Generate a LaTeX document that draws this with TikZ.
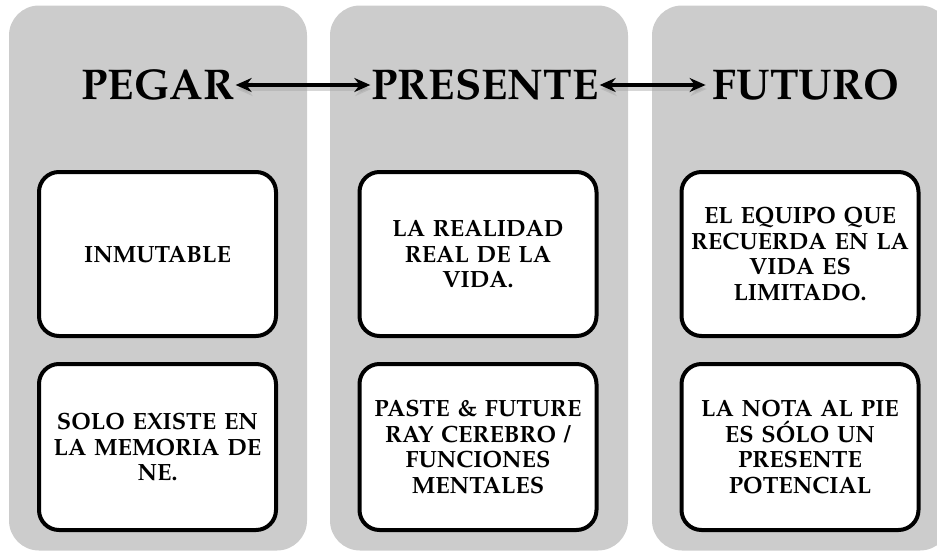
\documentclass[tikz,border=0pt]{standalone}
\usepackage[T1]{fontenc}
\usepackage{mathpazo}
\usetikzlibrary{arrows.meta}
\definecolor{colgray}{HTML}{CCCCCC}
\tikzset{
	column/.style={fill=colgray, rounded corners=30pt, minimum width=298pt, minimum height=545pt, inner sep=0pt},
	card/.style={draw=black, line width=4pt, fill=white, rounded corners=20pt, minimum width=237pt, text width=237pt, align=center, inner sep=0pt, font=\bfseries\fontsize{23.5}{25.5}\selectfont},
	heading/.style={inner sep=1pt, font=\bfseries\fontsize{43}{43}\selectfont},
	link/.style={line width=4pt, {Stealth[length=16pt,width=14pt]}-{Stealth[length=16pt,width=14pt]}},
	linkshadow/.style={link, draw=black!35, opacity=0.45}
}

\begin{document}
\begin{tikzpicture}[x=1pt, y=-1pt]
		%%%%% START %%%%%
		\useasboundingbox (0, 0) rectangle (937, 554);
		\clip (0, 0) rectangle (937, 554);
		
		\node[column] (colpegar) at (158, 278) {};
		\node[column] (colpresente) at (479, 278) {};
		\node[column] (colfuturo) at (801, 278) {};
		
		\node[heading] (pegar) at (158, 85) {PEGAR};
		\node[heading] (presente) at (485, 85) {PRESENTE};
		\node[heading] (futuro) at (806, 85) {FUTURO};
		
		% shadows of the arrows
		\draw[linkshadow] ([shift={(1, 4)}]pegar.east) -- ([shift={(1, 4)}]presente.west);
		\draw[linkshadow, shorten >=6pt] ([shift={(1, 4)}]presente.east) -- ([shift={(1, 4)}]futuro.west);
		
		\draw[link] (pegar.east) -- (presente.west);
		\draw[link, shorten >=6pt] (presente.east) -- (futuro.west);
		
		\node[card, minimum height=164pt] (inmutable) at (157.5, 254) {INMUTABLE};
		\node[card, minimum height=166pt] (memoria) at (157.5, 447) {SOLO EXISTE EN\\LA MEMORIA DE\\NE.};
		
		\node[card, minimum height=164pt] (realidad) at (478, 254) {LA REALIDAD\\REAL DE LA\\VIDA.};
		\node[card, minimum height=166pt] (cerebro) at (478, 447) {PASTE \& FUTURE\\RAY CEREBRO /\\FUNCIONES\\MENTALES};
		
		\node[card, minimum height=164pt] (equipo) at (800, 254) {EL EQUIPO QUE\\RECUERDA EN LA\\VIDA ES\\LIMITADO.};
		\node[card, minimum height=166pt] (nota) at (800, 447) {LA NOTA AL PIE\\ES SÓLO UN\\PRESENTE\\POTENCIAL};
		
		%%%%% END %%%%%
\end{tikzpicture}
\end{document}
